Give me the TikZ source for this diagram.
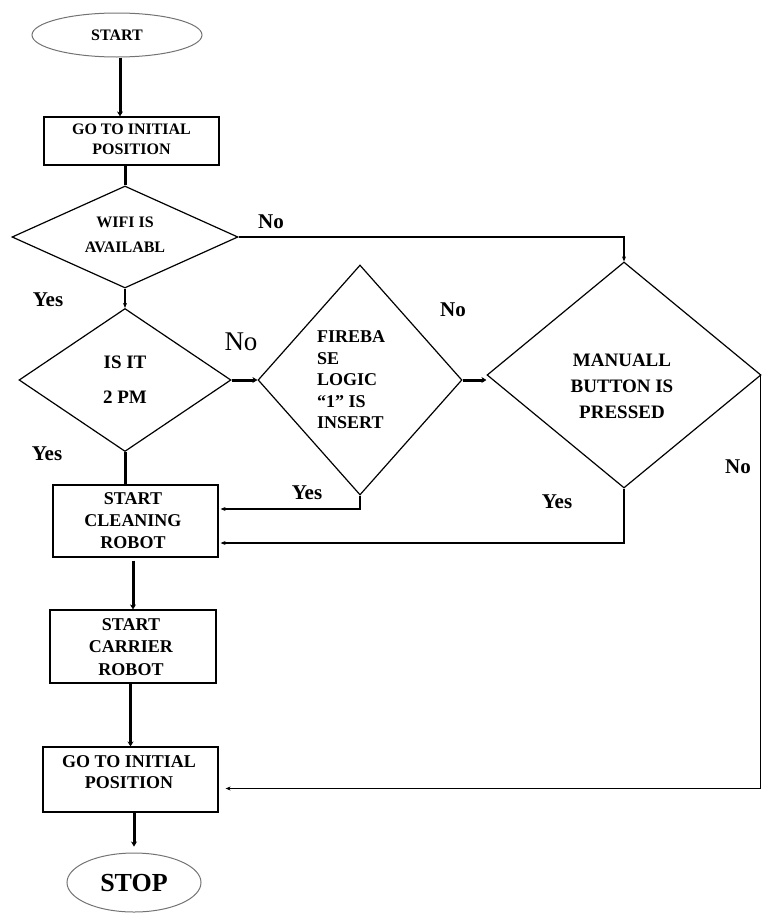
\documentclass[tikz,border=0pt]{standalone}
\usepackage{fontspec}
\setmainfont{Liberation Serif}
\usetikzlibrary{shapes.geometric,arrows.meta}
\begin{document}
\begin{tikzpicture}[x=1pt,y=-1pt,
  box/.style={draw, line width=1.2pt, rectangle, inner sep=0pt, align=center, font=\bfseries\fontsize{18}{21.5}\selectfont},
  dia/.style={draw, diamond, line width=1.2pt, inner sep=0pt},
  oval/.style={draw=black!55, ellipse, line width=1pt, inner sep=0pt},
  txt/.style={font=\bfseries\fontsize{18}{21.5}\selectfont, align=center, inner sep=0pt},
  lbl/.style={font=\bfseries\fontsize{21}{24}\selectfont, inner sep=0pt},
  thinarrow/.style={line width=1.2pt, -{Stealth[length=5pt,width=4pt]}},
  thickline/.style={line width=3pt},
  thickarrow/.style={line width=3pt, -{Stealth[length=5pt,width=6pt]}}
]
\useasboundingbox (0,0) rectangle (763,913);

% nodes
\node[oval, minimum width=170pt, minimum height=44pt] (start) at (117,35) {};
\node[txt, font=\bfseries\fontsize{16}{19}\selectfont] (startT) at (117,35) {START};

\node[box, minimum width=175pt, minimum height=48pt] (box1) at (131.5,141) {};
\node[txt, font=\bfseries\fontsize{16}{20}\selectfont] (box1T) at (131.5,139) {GO TO INITIAL\\POSITION};

\node[dia, minimum width=226pt, minimum height=102pt] (wifi) at (125,237) {};
\node[txt, font=\bfseries\fontsize{16}{25}\selectfont] (wifiT) at (125,235) {WIFI IS\\AVAILABL};

\node[dia, minimum width=212pt, minimum height=143pt] (isit) at (125,380) {};
\node[txt, font=\bfseries\fontsize{19}{35}\selectfont] (isitT) at (125,380) {IS IT\\2 PM};

\node[dia, minimum width=204pt, minimum height=230pt] (fire) at (360,380) {};
\node[txt, align=left, anchor=west, font=\bfseries\fontsize{18}{21.5}\selectfont] (fireT) at (317,380) {FIREBA\\SE\\LOGIC\\“1” IS\\INSERT};

\node[dia, minimum width=274pt, minimum height=226pt] (manual) at (624,375) {};
\node[txt, font=\bfseries\fontsize{19}{26}\selectfont] (manualT) at (622,386) {MANUALL\\BUTTON IS\\PRESSED};

\node[box, minimum width=165pt, minimum height=72pt] (clean) at (135.5,521) {};
\node[txt, font=\bfseries\fontsize{18}{22}\selectfont] (cleanT) at (133,521) {START\\CLEANING\\ROBOT};

\node[box, minimum width=166pt, minimum height=73pt] (carrier) at (133,646.5) {};
\node[txt, font=\bfseries\fontsize{18}{22.5}\selectfont] (carrierT) at (131,647) {START\\CARRIER\\ROBOT};

\node[box, minimum width=175pt, minimum height=65pt] (fin) at (130.5,779.5) {};
\node[txt, font=\bfseries\fontsize{18}{21}\selectfont] (finT) at (129,772) {GO TO INITIAL\\POSITION};

\node[oval, minimum width=134pt, minimum height=59pt] (stop) at (134,882.5) {};
\node[txt, font=\bfseries\fontsize{26}{30}\selectfont] (stopT) at (134,883) {STOP};

% labels
\node[lbl] (l1) at (271,222) {No};
\node[lbl] (l2) at (48,300) {Yes};
\node[inner sep=0pt, font=\fontsize{27}{30}\selectfont] (l3) at (241,342) {No};
\node[lbl] (l4) at (453,310) {No};
\node[lbl] (l5) at (47,454) {Yes};
\node[lbl] (l6) at (307,493) {Yes};
\node[lbl] (l7) at (557,502) {Yes};
\node[lbl] (l8) at (738,467) {No};

% connectors
\draw[thickarrow] ([xshift=3pt]start.south) -- ([xshift=3pt]start.south |- box1.north);
\draw[thickline] (wifi.north |- box1.south) -- (wifi.north);
\draw[thinarrow] (wifi.east) -| (manual.north);
\draw[thinarrow] (wifi.south) -- (isit.north);
\draw[thickarrow] (isit.east) -- (fire.west);
\draw[thickarrow] (fire.east) -- (fire.east -| manual.west);
\draw[thinarrow] (fire.south) |- ([xshift=2pt,yshift=12pt]clean.east);
\draw[thinarrow] (manual.south) |- ([xshift=2pt,yshift=-22pt]clean.east);
\draw[thinarrow] ([xshift=-1pt]manual.east) |- ([xshift=7pt,yshift=-9pt]fin.east);
\draw[thickline] (isit.south) -- (isit.south |- clean.north);
\draw[thickarrow] ([yshift=-3pt]carrier.north |- clean.south) -- (carrier.north);
\draw[thickarrow] (fin.north |- carrier.south) -- (fin.north);
\draw[thickarrow, shorten >=6pt] (stop.north |- fin.south) -- (stop.north);
\end{tikzpicture}
\end{document}
